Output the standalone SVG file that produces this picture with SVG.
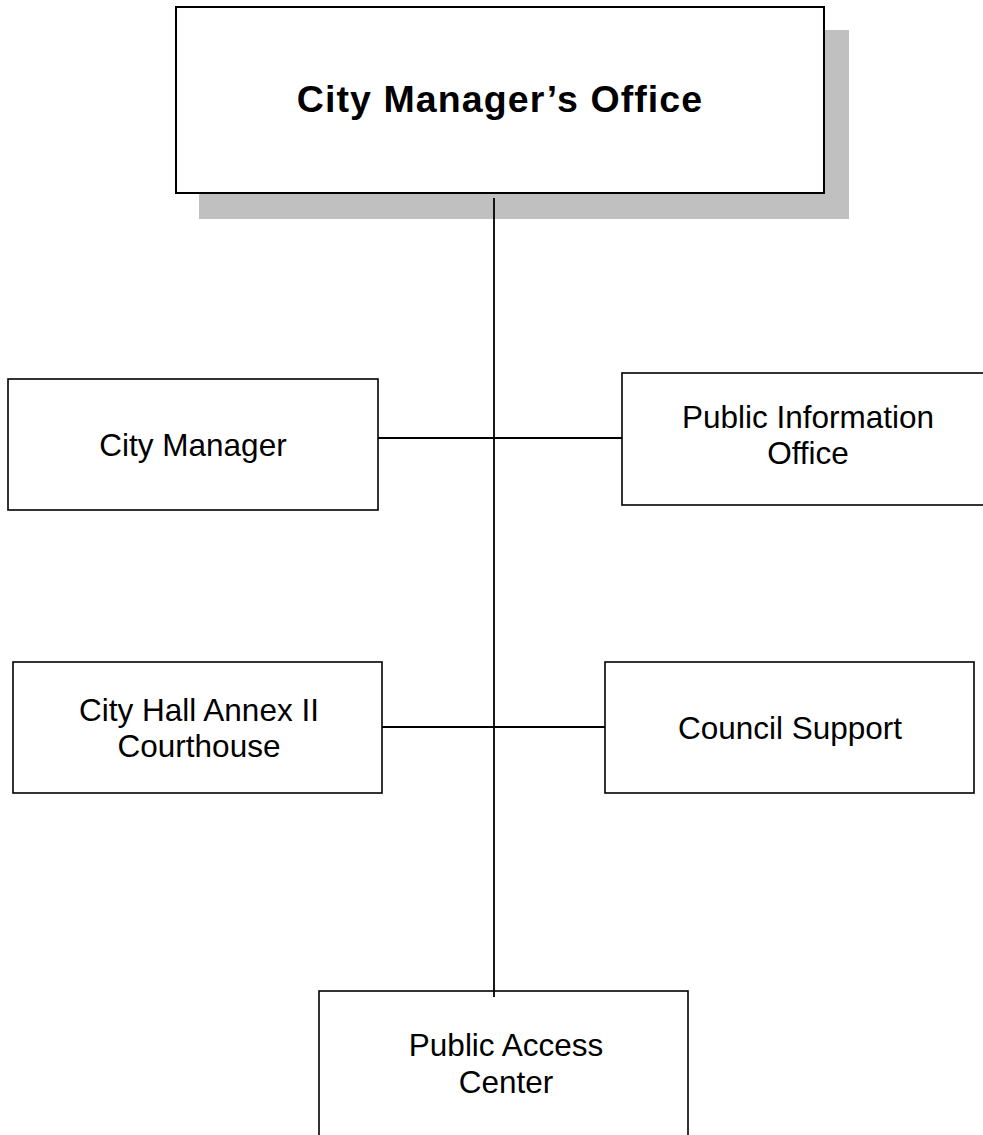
<svg xmlns="http://www.w3.org/2000/svg" width="983" height="1135" viewBox="0 0 983 1135">
  <style>
    .box { fill: #ffffff; stroke: #000000; stroke-width: 1.6; }
    .head { fill: #ffffff; stroke: #000000; stroke-width: 2; }
    .shadow { fill: #c0c0c0; stroke: none; }
    .label { font-family: "Liberation Sans", Arial, sans-serif; font-size: 31.5px; fill: #000000; text-anchor: middle; }
    .title { font-family: "Liberation Sans", Arial, sans-serif; font-size: 37.5px; font-weight: bold; letter-spacing: 1.1px; fill: #000000; text-anchor: middle; }
    .link { stroke: #000000; stroke-width: 1.8; fill: none; }
  </style>
  <rect width="983" height="1135" fill="#ffffff"/>

  <!-- head office with drop shadow -->
  <g id="city-managers-office">
    <rect class="shadow" x="199" y="30" width="650" height="189"/>
    <rect class="head" x="176" y="7" width="648" height="186"/>
    <text class="title" x="500" y="112">City Manager’s Office</text>
  </g>

  <g id="city-manager">
    <rect class="box" x="8" y="379" width="370" height="131"/>
    <text class="label" x="193" y="456">City Manager</text>
  </g>

  <g id="public-information-office">
    <rect class="box" x="622" y="373" width="380" height="132"/>
    <text class="label" x="808" y="428">Public Information</text>
    <text class="label" x="808" y="464">Office</text>
  </g>

  <g id="city-hall-annex">
    <rect class="box" x="13" y="662" width="369" height="131"/>
    <text class="label" x="199" y="721">City Hall Annex II</text>
    <text class="label" x="199" y="757">Courthouse</text>
  </g>

  <g id="council-support">
    <rect class="box" x="605" y="662" width="369" height="131"/>
    <text class="label" x="790" y="739">Council Support</text>
  </g>

  <g id="public-access-center">
    <rect class="box" x="319" y="991" width="369" height="160"/>
    <text class="label" x="506" y="1056">Public Access</text>
    <text class="label" x="506" y="1093">Center</text>
  </g>

  <!-- connectors, drawn on top so the trunk shows over the shadow -->
  <g id="connectors">
    <line class="link" x1="494" y1="198" x2="494" y2="997"/>
    <line class="link" x1="378" y1="438" x2="622" y2="438"/>
    <line class="link" x1="382" y1="727" x2="605" y2="727"/>
  </g>
</svg>
